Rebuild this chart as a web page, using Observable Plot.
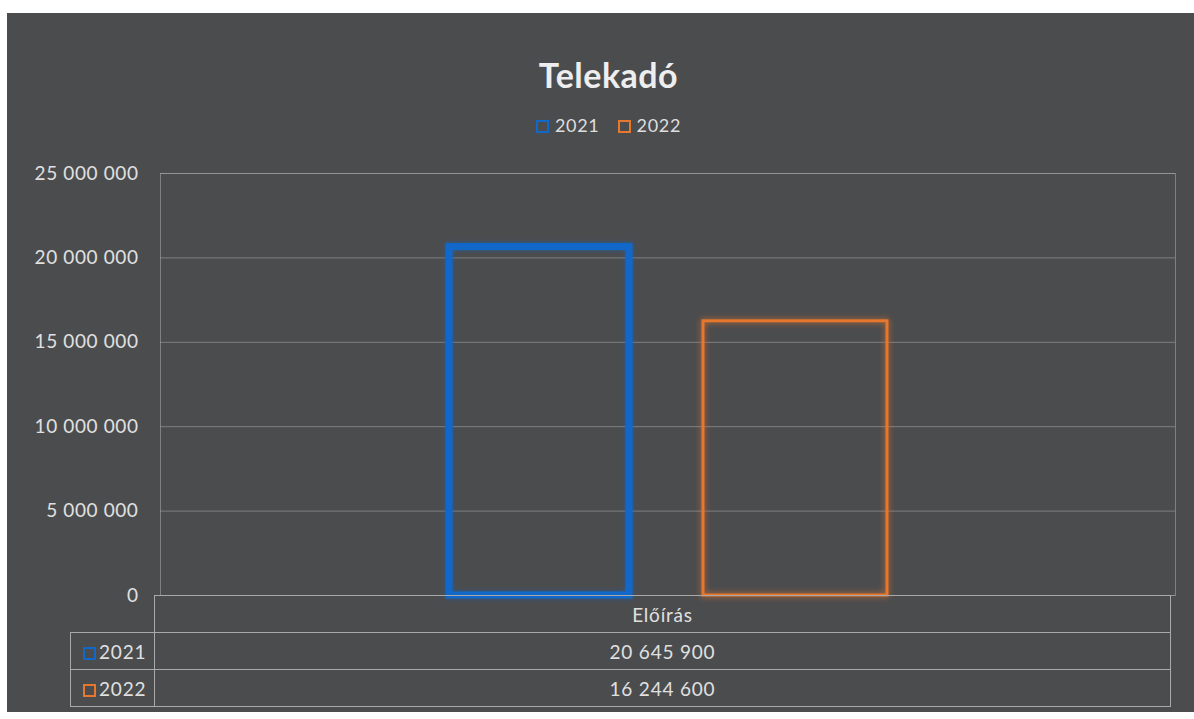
<!DOCTYPE html>
<html>
<head>
<meta charset="utf-8">
<script src="https://cdn.jsdelivr.net/npm/d3@7"></script>
<script src="https://cdn.jsdelivr.net/npm/@observablehq/plot@0.6"></script>
<style>
  html, body { margin: 0; padding: 0; background: #ffffff; }
  #page { position: relative; width: 1194px; height: 719px; overflow: hidden; background: #fff; }
  #chart {
    position: absolute; left: 7px; top: 13px; width: 1187px; height: 699px;
    background: #4b4c4e; font-family: Lato, "Open Sans", sans-serif; color: #e2e2e2;
  }
  #title { box-sizing: border-box; height: 80px; padding-top: 43px; padding-left: 16px; text-align: center;
    font-size: 34px; line-height: 38px; font-weight: 700; color: #eeeeee; letter-spacing: 0.5px; }
  #legend { box-sizing: border-box; height: 62px; padding-top: 22px; padding-left: 16px; text-align: center;
    font-size: 18px; line-height: 20px; color: #dedede; letter-spacing: 0.7px; }
  .sw { display: inline-block; box-sizing: border-box; width: 13px; height: 13px; vertical-align: -1px; margin-right: 6px; background: transparent; border-style: solid; border-width: 2px; }
  .item { display: inline-block; margin: 0 9px; }
  #plot svg { display: block; }
  #tbl { border-collapse: collapse; margin-left: 63px; margin-top: -12px; position: relative; font-size: 19px; color: #e0e0e0; letter-spacing: 0.8px; }
  #tbl td { border: 1px solid #a9a9a9; height: 36px; padding: 0; }
  #tbl td.blank { border: none; }
  #tbl td.lab { width: 84px; padding-left: 12px; box-sizing: border-box; text-align: left; }
  #tbl td.val { width: 1015px; text-align: center; }
</style>
</head>
<body>
<div id="page">
  <div id="chart">
    <div id="title"></div>
    <div id="legend"></div>
    <div id="plot"></div>
    <table id="tbl"></table>
  </div>
</div>
<script>
const title = "Telekadó";
const category = "Előírás";
const years = ["2021", "2022"];
const values = [20645900, 16244600];
const colors = ["#1268c9", "#e8772e"];
const strokeWidths = [7, 3];
const yTicks = [0, 5000000, 10000000, 15000000, 20000000, 25000000];

const fmt = v => d3.format(",")(v).replace(/,/g, "\u00a0");
const data = years.map((y, i) => ({year: y, value: values[i], color: colors[i]}));

document.getElementById("title").textContent = title;

function swatch(color) {
  const sw = document.createElement("span");
  sw.className = "sw";
  sw.style.borderColor = color;
  return sw;
}

const legend = document.getElementById("legend");
years.forEach((y, i) => {
  const it = document.createElement("span");
  it.className = "item";
  it.appendChild(swatch(colors[i]));
  it.appendChild(document.createTextNode(y));
  legend.appendChild(it);
});

const chart = Plot.plot({
  width: 1187,
  height: 452,
  marginLeft: 153,
  marginRight: 19,
  marginTop: 18,
  marginBottom: 12,
  style: {background: "transparent", fontFamily: "Lato, 'Open Sans', sans-serif", fontSize: "19px", color: "#e0e0e0"},
  x: {domain: years, paddingInner: 0.28, paddingOuter: 1.12, axis: null},
  y: {domain: [0, 25000000], ticks: yTicks, tickFormat: fmt, tickSize: 0, tickPadding: 22, label: null},
  marks: [
    Plot.gridY(yTicks, {stroke: "#a3a3a3", strokeOpacity: 0.6, strokeWidth: 1}),
    Plot.frame({stroke: "#a3a3a3", strokeOpacity: 0.6}),
    Plot.barY(data.filter(d => d.year === years[0]), {
      x: "year", y: "value", fill: "none", stroke: d => d.color, strokeWidth: strokeWidths[0],
      insetLeft: 2, insetRight: 2,
      imageFilter: "drop-shadow(0 0 2px rgba(18,104,201,0.7))"
    }),
    Plot.barY(data.filter(d => d.year === years[1]), {
      x: "year", y: "value", fill: "none", stroke: d => d.color, strokeWidth: strokeWidths[1],
      imageFilter: "drop-shadow(0 0 3px rgba(232,119,46,0.85))"
    }),
    Plot.axisY({ticks: yTicks, tickFormat: fmt, tickSize: 0, tickPadding: 22, label: null, fill: "#e0e0e0"})
  ]
});
chart.querySelectorAll("text").forEach(t => t.setAttribute("letter-spacing", "0.6"));
document.getElementById("plot").appendChild(chart);

// data table beneath the chart
const tbl = document.getElementById("tbl");
const head = document.createElement("tr");
head.innerHTML = `<td class="blank lab"></td><td class="val">${category}</td>`;
tbl.appendChild(head);
data.forEach(d => {
  const tr = document.createElement("tr");
  const lab = document.createElement("td");
  lab.className = "lab";
  const sw = swatch(d.color);
  sw.style.marginRight = "3px";
  lab.appendChild(sw);
  lab.appendChild(document.createTextNode(d.year));
  const val = document.createElement("td");
  val.className = "val";
  val.textContent = fmt(d.value);
  tr.appendChild(lab); tr.appendChild(val);
  tbl.appendChild(tr);
});
</script>
</body>
</html>
